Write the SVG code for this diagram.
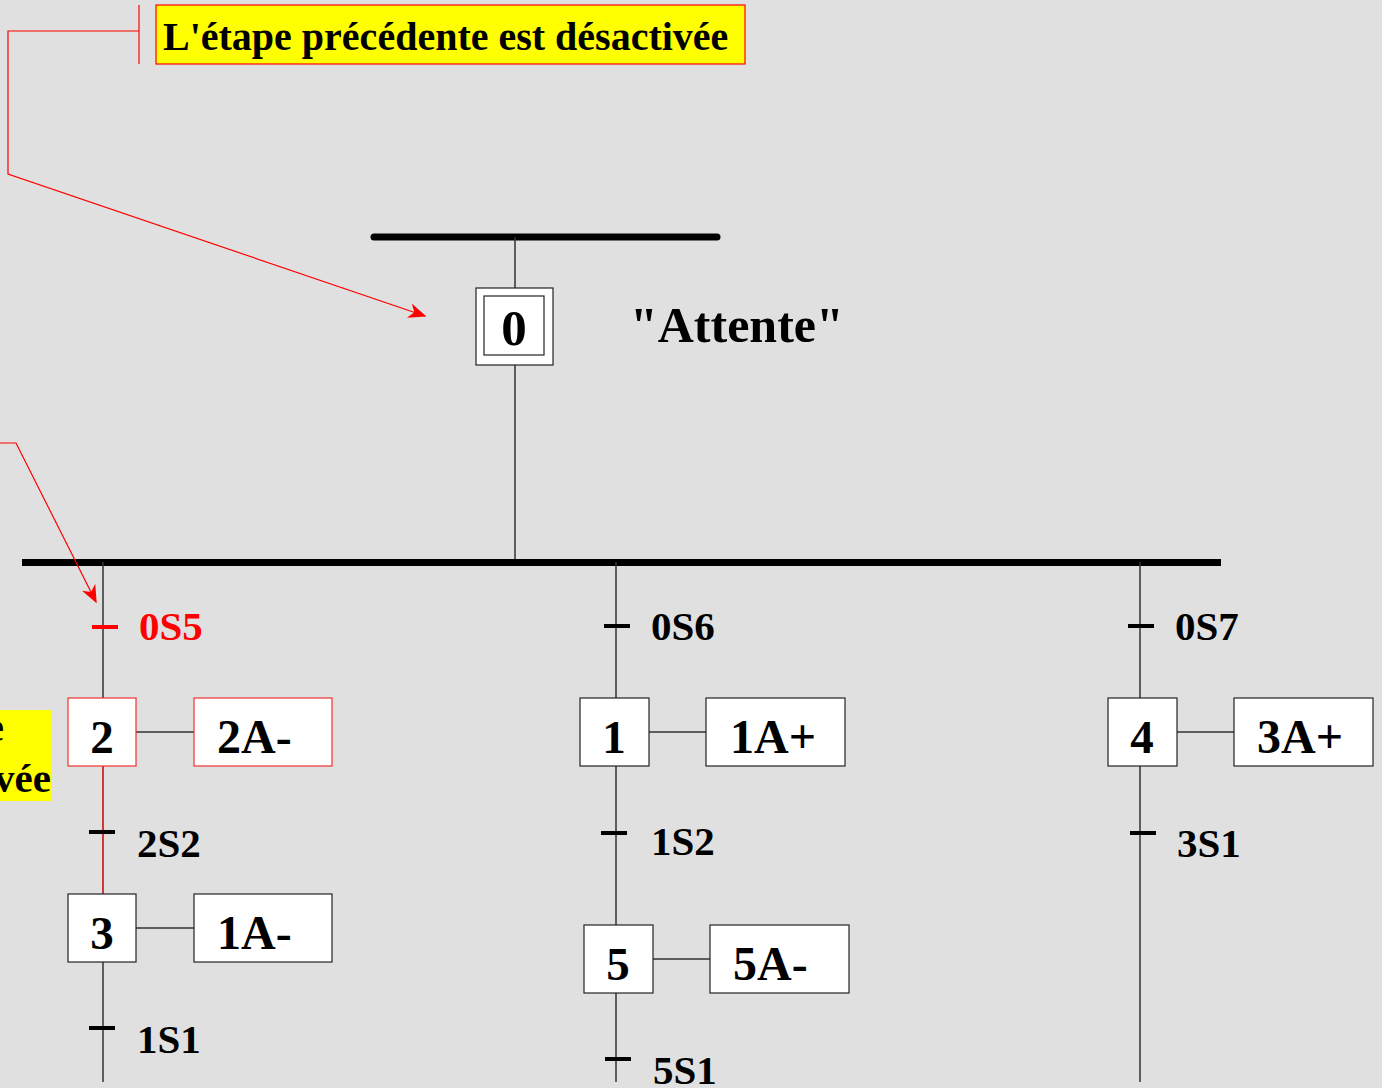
<svg xmlns="http://www.w3.org/2000/svg" width="1382" height="1088" viewBox="0 0 1382 1088">
<defs>
<style>
text{font-family:"Liberation Serif","Times New Roman",serif;font-weight:bold;fill:#000}
.lbl{font-size:41px}
.num{font-size:47px;text-anchor:middle}
.act{font-size:48px}
.box{fill:#fff;stroke:#222;stroke-width:1.2}
.rbox{fill:#fff;stroke:#f03030;stroke-width:1.2}
.wire{stroke:#333;stroke-width:1.5;fill:none}
.tr{stroke:#000;stroke-width:4}
.bar{stroke:#000;stroke-width:7}
.red{stroke:#f00;stroke-width:1.2;fill:none}
</style>
<marker id="arr" viewBox="0 0 12 10" refX="11" refY="5" markerWidth="18" markerHeight="15" markerUnits="userSpaceOnUse" orient="auto">
<path d="M0,0 L12,5 L0,10 L3.5,5 z" fill="#f00"/>
</marker>
</defs>
<rect width="1382" height="1088" fill="#e0e0e0"/>

<g id="connectors">
<line class="bar" x1="374" y1="237" x2="717" y2="237" stroke-linecap="round" stroke-width="6"/>
<line class="wire" x1="515" y1="237" x2="515" y2="289"/>
<line class="wire" x1="515" y1="365" x2="515" y2="562"/>
<line class="bar" x1="22" y1="562.5" x2="1221" y2="562.5"/>
<line class="wire" x1="103" y1="562" x2="103" y2="698"/>
<line x1="103" y1="766" x2="103" y2="894" stroke="#c00" stroke-width="1.5"/>
<line class="wire" x1="103" y1="962" x2="103" y2="1082"/>
<line class="wire" x1="616" y1="562" x2="616" y2="1082"/>
<line class="wire" x1="1140" y1="562" x2="1140" y2="1082"/>
<line class="wire" x1="136" y1="732" x2="194" y2="732"/>
<line class="wire" x1="136" y1="928" x2="194" y2="928"/>
<line class="wire" x1="649" y1="732" x2="706" y2="732"/>
<line class="wire" x1="653" y1="959" x2="710" y2="959"/>
<line class="wire" x1="1177" y1="732" x2="1234" y2="732"/>
<line x1="92" y1="627" x2="118" y2="627" stroke="#f00" stroke-width="4"/>
<line class="tr" x1="89" y1="832" x2="115" y2="832"/>
<line class="tr" x1="89" y1="1028" x2="115" y2="1028"/>
<line class="tr" x1="604" y1="626" x2="630" y2="626"/>
<line class="tr" x1="601" y1="833" x2="627" y2="833"/>
<line class="tr" x1="605" y1="1059" x2="631" y2="1059"/>
<line class="tr" x1="1128" y1="626" x2="1154" y2="626"/>
<line class="tr" x1="1130" y1="833" x2="1156" y2="833"/>
<polyline class="red" points="139,5 139,64"/>
<polyline class="red" points="139,31 8,31 8,174 425,316" marker-end="url(#arr)"/>
<polyline class="red" points="0,443 16,443 96,602" marker-end="url(#arr)"/>
</g>

<g id="note-top">
<rect x="156" y="5" width="589" height="59" fill="#ff0" stroke="#f00" stroke-width="1.2"/>
<text x="163" y="50" style="font-size:40px">L'étape précédente est désactivée</text>
</g>

<g id="note-left">
<rect x="-10" y="710" width="62" height="91" fill="#ff0"/>
<text x="4" y="741" class="lbl" text-anchor="end">e</text>
<text x="51" y="792" class="lbl" text-anchor="end">vée</text>
</g>

<g id="step0">
<rect x="476" y="288" width="77" height="77" class="box"/>
<rect x="484" y="296" width="60" height="59" class="box" stroke="#444"/>
<text x="514" y="345" class="num" style="font-size:51px">0</text>
</g>
<g id="label-attente">
<text x="630" y="342" style="font-size:50px">"Attente"</text>
</g>

<g id="t-0S5"><text x="139" y="640" class="lbl" style="fill:#f00">0S5</text></g>
<g id="step2">
<rect x="68" y="698" width="68" height="68" class="rbox"/>
<text x="102" y="753" class="num">2</text>
</g>
<g id="act-2A">
<rect x="194" y="698" width="138" height="68" class="rbox"/>
<text x="217" y="753" class="act">2A-</text>
</g>
<g id="t-2S2"><text x="137" y="857" class="lbl">2S2</text></g>
<g id="step3">
<rect x="68" y="894" width="68" height="68" class="box"/>
<text x="102" y="949" class="num">3</text>
</g>
<g id="act-1A-">
<rect x="194" y="894" width="138" height="68" class="box"/>
<text x="217" y="949" class="act">1A-</text>
</g>
<g id="t-1S1"><text x="137" y="1053" class="lbl">1S1</text></g>

<g id="t-0S6"><text x="651" y="640" class="lbl">0S6</text></g>
<g id="step1">
<rect x="580" y="698" width="69" height="68" class="box"/>
<text x="614" y="753" class="num">1</text>
</g>
<g id="act-1A+">
<rect x="706" y="698" width="139" height="68" class="box"/>
<text x="730" y="753" class="act">1A+</text>
</g>
<g id="t-1S2"><text x="651" y="855" class="lbl">1S2</text></g>
<g id="step5">
<rect x="584" y="925" width="69" height="68" class="box"/>
<text x="618" y="980" class="num">5</text>
</g>
<g id="act-5A-">
<rect x="710" y="925" width="139" height="68" class="box"/>
<text x="733" y="980" class="act">5A-</text>
</g>
<g id="t-5S1"><text x="653" y="1084" class="lbl">5S1</text></g>

<g id="t-0S7"><text x="1175" y="640" class="lbl">0S7</text></g>
<g id="step4">
<rect x="1108" y="698" width="69" height="68" class="box"/>
<text x="1142" y="753" class="num">4</text>
</g>
<g id="act-3A+">
<rect x="1234" y="698" width="139" height="68" class="box"/>
<text x="1257" y="753" class="act">3A+</text>
</g>
<g id="t-3S1"><text x="1177" y="857" class="lbl">3S1</text></g>
</svg>
